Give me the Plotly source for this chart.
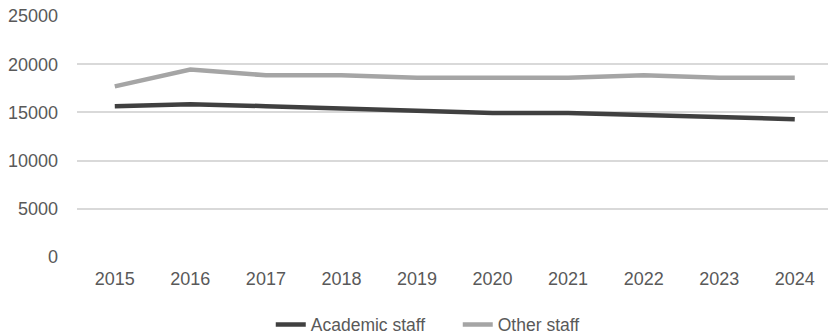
import plotly.graph_objects as go

years = ["2015", "2016", "2017", "2018", "2019", "2020", "2021", "2022", "2023", "2024"]
academic_staff = [15650, 15850, 15650, 15400, 15150, 14950, 14950, 14750, 14500, 14300]
other_staff = [17700, 19450, 18850, 18850, 18600, 18600, 18600, 18850, 18600, 18600]
y_ticks = [0, 5000, 10000, 15000, 20000, 25000]
y_tick_text = [str(v) for v in y_ticks]

FONT = "Liberation Sans"
TEXT = "#595959"

fig = go.Figure()
fig.add_trace(go.Scatter(
    x=years, y=academic_staff, name="Academic staff", mode="lines",
    line=dict(color="#404040", width=4.5),
))
fig.add_trace(go.Scatter(
    x=years, y=other_staff, name="Other staff", mode="lines",
    line=dict(color="#a5a5a5", width=4.5),
))

fig.update_layout(
    width=828, height=336,
    margin=dict(l=77, r=0, t=16, b=79, autoexpand=False),
    paper_bgcolor="white", plot_bgcolor="white",
    font=dict(family=FONT, size=18, color=TEXT),
    showlegend=True,
    legend=dict(
        orientation="h", x=0.258, xanchor="left", y=-0.206, yanchor="top",
        font=dict(family=FONT, size=17.5, color=TEXT),
        entrywidth=142, tracegroupgap=0,
    ),
)
fig.update_xaxes(
    type="category", range=[-0.5, 9.44],
    showgrid=False, zeroline=False, showline=False,
    ticks="", ticklabelstandoff=9,
)
fig.update_yaxes(
    range=[0, 25000], tickvals=y_ticks, ticktext=y_tick_text,
    showgrid=True, gridcolor="#d9d9d9", gridwidth=1.5,
    zeroline=False, showline=False, ticks="", ticklabelstandoff=18,
)

fig.write_html("out.html")
